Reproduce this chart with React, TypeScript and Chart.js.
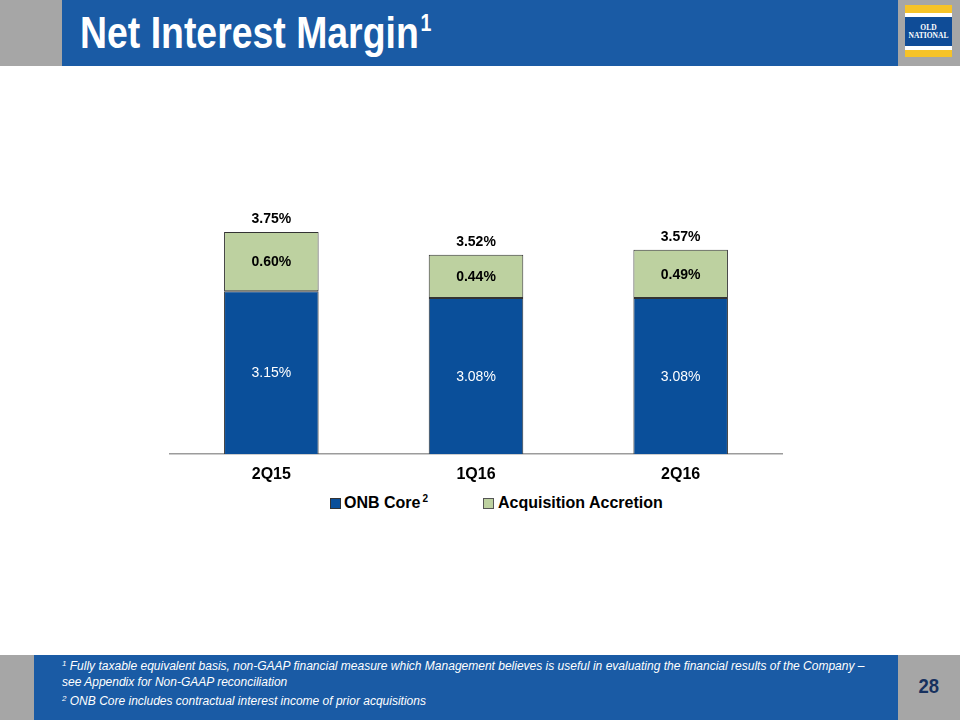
import React, { useEffect, useRef } from "react";
import { Chart, registerables } from "chart.js";

Chart.register(...registerables);

const categories = ["2Q15", "1Q16", "2Q16"];
const onbCore = [3.15, 3.08, 3.08];
const accretion = [0.6, 0.44, 0.49];
const seriesNames = ["ONB Core", "Acquisition Accretion"];
const yMin = 1.5;
const yMax = 4.5;

const BLUE = "#0A4F9A";
const GREEN = "#BDD1A0";
const HEADER_BLUE = "#1A5BA5";
const GREY = "#A6A6A6";
const FONT = '"Liberation Sans", Arial, Helvetica, sans-serif';

const fmt = (v: number) => v.toFixed(2) + "%";

const labelPlugin = {
  id: "barLabels",
  afterDatasetsDraw(chart: any) {
    const ctx = chart.ctx;
    const bottom = chart.chartArea.bottom;
    const m0 = chart.getDatasetMeta(0);
    const m1 = chart.getDatasetMeta(1);
    ctx.save();
    ctx.textAlign = "center";
    ctx.textBaseline = "middle";
    m0.data.forEach((el: any, i: number) => {
      const p = el.getProps(["x", "y", "base"], true);
      const base = Math.min(p.base, bottom);
      ctx.fillStyle = "#ffffff";
      ctx.font = "14px " + FONT;
      ctx.fillText(fmt(onbCore[i]), p.x, (p.y + base) / 2 + 1);
    });
    m1.data.forEach((el: any, i: number) => {
      const p = el.getProps(["x", "y", "base"], true);
      ctx.fillStyle = "#000000";
      ctx.font = "bold 14px " + FONT;
      ctx.fillText(fmt(accretion[i]), p.x, (p.y + p.base) / 2 + 1);
      ctx.fillText(fmt(onbCore[i] + accretion[i]), p.x, p.y - 13);
    });
    ctx.restore();
  },
};

function ChartBox() {
  const ref = useRef<HTMLCanvasElement | null>(null);
  useEffect(() => {
    if (!ref.current) return;
    const chart = new Chart(ref.current, {
      type: "bar",
      data: {
        labels: categories,
        datasets: [
          {
            label: seriesNames[0],
            data: onbCore,
            backgroundColor: BLUE,
            borderColor: "#333333",
            borderWidth: 1,
            borderSkipped: false,
            categoryPercentage: 1,
            barPercentage: 0.462,
          },
          {
            label: seriesNames[1],
            data: accretion,
            backgroundColor: GREEN,
            borderColor: "#333333",
            borderWidth: 1,
            borderSkipped: false,
            categoryPercentage: 1,
            barPercentage: 0.462,
          },
        ],
      },
      options: {
        responsive: false,
        animation: false,
        devicePixelRatio: 1,
        layout: { padding: 0 },
        plugins: {
          legend: { display: false },
          tooltip: { enabled: false },
          title: { display: false },
        },
        scales: {
          x: {
            stacked: true,
            offset: true,
            grid: { display: false, drawTicks: false },
            border: { display: true, color: "#9C9C9C", width: 1.5 },
            ticks: {
              color: "#000",
              padding: 11,
              font: { family: FONT, size: 16, weight: "bold" },
            },
            afterFit: (scale: any) => {
              scale.height = 34;
            },
          },
          y: {
            stacked: true,
            display: false,
            min: yMin,
            max: yMax,
          },
        },
      },
      plugins: [labelPlugin],
    } as any);
    return () => chart.destroy();
  }, []);
  return (
    <canvas
      ref={ref}
      width={614}
      height={330}
      style={{ position: "absolute", left: 169, top: 158, width: 614, height: 330 }}
    />
  );
}

export default function App() {
  return (
    <div
      style={{
        position: "absolute",
        left: 0,
        top: 0,
        width: 960,
        height: 720,
        background: "#ffffff",
        overflow: "hidden",
        fontFamily: FONT,
      }}
    >
      {/* Header */}
      <div style={{ position: "absolute", left: 0, top: 0, width: 62, height: 66, background: GREY }} />
      <div style={{ position: "absolute", left: 62, top: 0, width: 836, height: 66, background: HEADER_BLUE }} />
      <div style={{ position: "absolute", left: 898, top: 0, width: 62, height: 66, background: GREY }} />
      <div
        style={{
          position: "absolute",
          left: 80,
          top: 11,
          color: "#fff",
          fontFamily: FONT,
          fontWeight: "bold",
          fontSize: 44,
          lineHeight: "44px",
          whiteSpace: "nowrap",
          transform: "scaleX(0.85)",
          transformOrigin: "left top",
        }}
      >
        Net Interest Margin
        <span style={{ fontSize: 23, position: "relative", top: -17, marginLeft: 2 }}>1</span>
      </div>
      {/* Logo */}
      <div style={{ position: "absolute", left: 905, top: 5, width: 47, height: 52, background: "#F6C328" }} />
      <div style={{ position: "absolute", left: 905, top: 13, width: 47, height: 37, background: "#ffffff" }} />
      <div
        style={{
          position: "absolute",
          left: 905,
          top: 17,
          width: 47,
          height: 29,
          background: "#0F4C97",
          color: "#fff",
          fontFamily: '"Liberation Serif", "DejaVu Serif", serif',
          fontWeight: "bold",
          fontSize: 7.5,
          lineHeight: "8px",
          textAlign: "center",
          display: "flex",
          flexDirection: "column",
          justifyContent: "center",
        }}
      >
        <div>OLD</div>
        <div>NATIONAL</div>
      </div>

      {/* Chart */}
      <ChartBox />

      {/* Legend */}
      <div
        style={{
          position: "absolute",
          left: 330,
          top: 494,
          height: 18,
          display: "flex",
          alignItems: "center",
          fontWeight: "bold",
          fontSize: 16,
          color: "#000",
          whiteSpace: "nowrap",
        }}
      >
        <span style={{ display: "inline-block", width: 9, height: 9, background: BLUE, border: "1px solid #333", marginRight: 3 }} />
        <span>
          {seriesNames[0]}
          <span style={{ fontSize: 10, marginLeft: 2, position: "relative", top: -6 }}>2</span>
        </span>
      </div>
      <div
        style={{
          position: "absolute",
          left: 483,
          top: 494,
          height: 18,
          display: "flex",
          alignItems: "center",
          fontWeight: "bold",
          fontSize: 16,
          color: "#000",
          whiteSpace: "nowrap",
        }}
      >
        <span style={{ display: "inline-block", width: 9, height: 9, background: GREEN, border: "1px solid #555", marginRight: 4 }} />
        <span>{seriesNames[1]}</span>
      </div>

      {/* Footer */}
      <div style={{ position: "absolute", left: 0, top: 655, width: 34, height: 65, background: GREY }} />
      <div style={{ position: "absolute", left: 34, top: 655, width: 864, height: 65, background: HEADER_BLUE }} />
      <div style={{ position: "absolute", left: 898, top: 655, width: 62, height: 65, background: GREY }} />
      <div
        style={{
          position: "absolute",
          left: 62,
          top: 659,
          width: 836,
          color: "#fff",
          fontStyle: "italic",
          fontSize: 12,
          lineHeight: "15px",
          whiteSpace: "nowrap",
        }}
      >
        <div>
          <span style={{ fontSize: 8, position: "relative", top: -4 }}>1</span> Fully taxable equivalent basis, non-GAAP financial measure which Management believes is useful in evaluating the financial results of the Company –
        </div>
        <div>see Appendix for Non-GAAP reconciliation</div>
        <div style={{ marginTop: 4 }}>
          <span style={{ fontSize: 8, position: "relative", top: -4 }}>2</span> ONB Core includes contractual interest income of prior acquisitions
        </div>
      </div>
      <div
        style={{
          position: "absolute",
          left: 898,
          top: 674,
          width: 62,
          textAlign: "center",
          color: "#17315E",
          fontWeight: "bold",
          fontFamily: FONT,
          fontSize: 21,
          lineHeight: "24px",
        }}
      >
        <span style={{ display: "inline-block", transform: "scaleX(0.88)" }}>28</span>
      </div>
    </div>
  );
}
